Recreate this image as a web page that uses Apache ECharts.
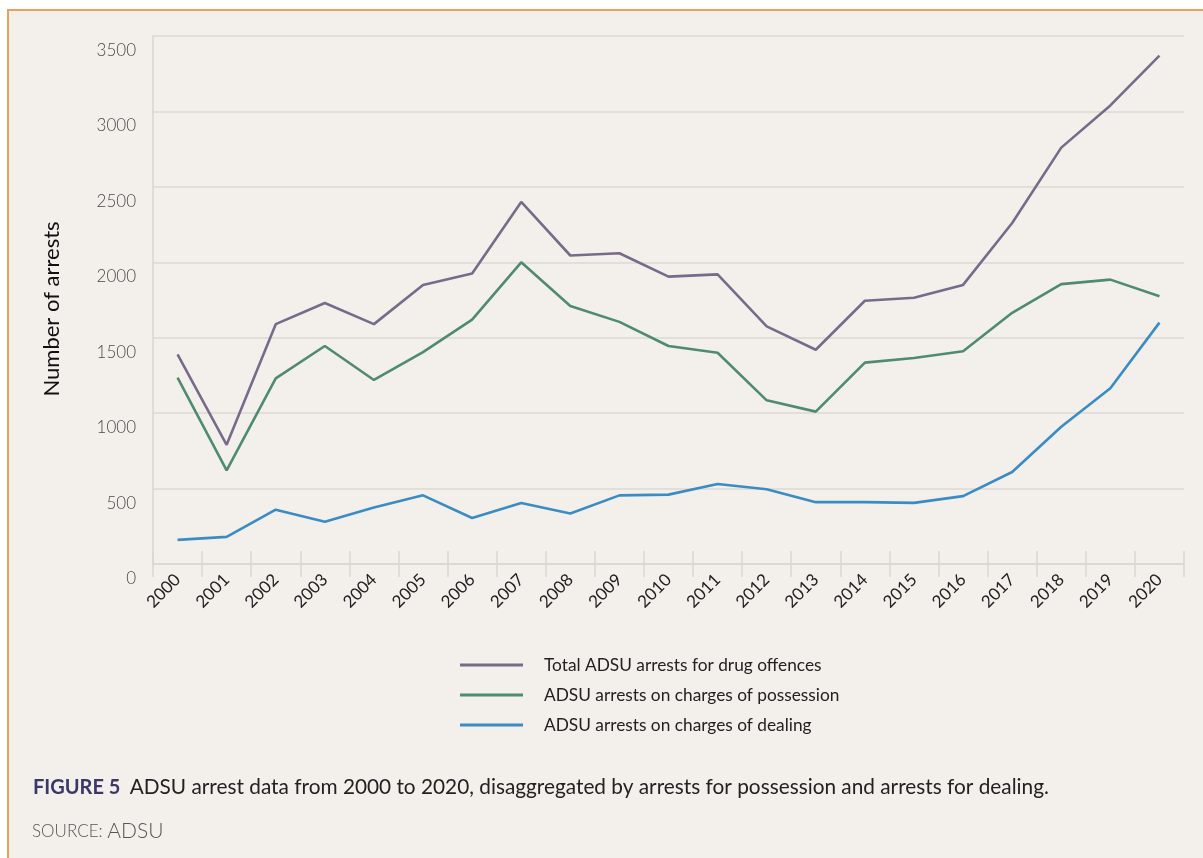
<!DOCTYPE html>
<html>
<head>
<meta charset="utf-8">
<script src="https://cdn.jsdelivr.net/npm/echarts@6/dist/echarts.min.js"></script>
<style>
html,body{margin:0;padding:0;background:#ffffff;width:1203px;height:858px;overflow:hidden;}
#frame{position:absolute;left:7px;top:9px;width:1220px;height:870px;border:2px solid #e8a25e;background:#f3f0ec;}
#chart{position:absolute;left:0;top:0;width:1203px;height:858px;}
</style>
</head>
<body>
<div id="frame"></div>
<div id="chart"></div>
<script>
const years = ['2000','2001','2002','2003','2004','2005','2006','2007','2008','2009','2010','2011','2012','2013','2014','2015','2016','2017','2018','2019','2020'];
const totalArrests = [1390,790,1590,1730,1590,1850,1925,2400,2045,2060,1905,1920,1575,1420,1745,1765,1850,2260,2760,3040,3370];
const possession = [1235,620,1230,1445,1220,1405,1620,2000,1710,1605,1445,1400,1085,1010,1335,1365,1410,1665,1855,1885,1775];
const dealing = [160,180,360,280,375,455,305,405,335,455,460,530,495,410,410,405,450,610,910,1165,1600];
const seriesNames = ['Total ADSU arrests for drug offences','ADSU arrests on charges of possession','ADSU arrests on charges of dealing'];
const seriesColors = ['#786b8a','#4f8b6f','#3a8cc3'];

const chart = echarts.init(document.getElementById('chart'), null, {renderer:'canvas'});
const FONT = 'Lato';
const axisGray = '#d9d6d2';
const option = {
  backgroundColor: 'transparent',
  textStyle: {fontFamily: FONT},
  title: [
    {
      left: 33, top: 777, padding: 0,
      text: '{b|FIGURE 5}  {n|ADSU arrest data from 2000 to 2020, disaggregated by arrests for possession and arrests for dealing.}',
      textStyle: {
        fontWeight: 'normal',
        rich: {
          b: {fontFamily: FONT, fontSize: 20, fontWeight: 'bold', color: '#3b3768'},
          n: {fontFamily: FONT, fontSize: 20.8, fontWeight: 'normal', color: '#222222'}
        }
      }
    },
    {
      left: 32, top: 821, padding: 0,
      text: '{s|SOURCE:} {a|ADSU}',
      textStyle: {
        fontWeight: 'normal',
        rich: {
          s: {fontFamily: FONT, fontSize: 17, fontWeight: 300, color: '#555555'},
          a: {fontFamily: FONT, fontSize: 21, fontWeight: 300, color: '#555555'}
        }
      }
    }
  ],
  legend: {
    orient: 'vertical',
    left: 460, top: 655, padding: 0,
    icon: 'rect',
    itemWidth: 63, itemHeight: 3,
    itemGap: 10,
    textStyle: {fontFamily: FONT, fontSize: 17.3, color: '#222222', lineHeight: 20, padding: [0,0,0,16]},
    data: seriesNames
  },
  grid: {left: 153, right: 19, top: 36, bottom: 294, containLabel: false},
  xAxis: [
    {
      type: 'category', data: years, boundaryGap: true,
      axisLine: {show: true, lineStyle: {color: axisGray, width: 1.5}},
      axisTick: {show: true, length: 13, lineStyle: {color: axisGray, width: 1.5}},
      axisLabel: {rotate: 45, fontFamily: FONT, fontSize: 17, color: '#222222', margin: 13, interval: 0}
    },
    {
      type: 'category', data: years, boundaryGap: true, position: 'bottom',
      axisLine: {show: false},
      axisTick: {show: true, inside: true, length: 13, lineStyle: {color: axisGray, width: 1.5}},
      axisLabel: {show: false}
    }
  ],
  yAxis: {
    type: 'value', min: 0, max: 3500, interval: 500,
    name: 'Number of arrests', nameLocation: 'middle', nameGap: 90,
    nameTextStyle: {fontFamily: FONT, fontSize: 22, color: '#111111', padding: [0, 18, 0, 0]},
    axisLine: {show: true, lineStyle: {color: axisGray, width: 1.5}},
    axisTick: {show: false},
    axisLabel: {fontFamily: FONT, fontSize: 17, fontWeight: 300, color: '#4a4a4a', margin: 17, formatter: function (v) { return String(v); }, verticalAlign: 'top', lineHeight: 29},
    splitLine: {lineStyle: {color: '#dcd9d5', width: 1.5}}
  },
  series: [
    {name: seriesNames[0], type: 'line', data: totalArrests, symbol: 'none', lineStyle: {width: 2.6, color: seriesColors[0]}, itemStyle: {color: seriesColors[0]}},
    {name: seriesNames[1], type: 'line', data: possession, symbol: 'none', lineStyle: {width: 2.6, color: seriesColors[1]}, itemStyle: {color: seriesColors[1]}},
    {name: seriesNames[2], type: 'line', data: dealing, symbol: 'none', lineStyle: {width: 2.6, color: seriesColors[2]}, itemStyle: {color: seriesColors[2]}}
  ],
  animation: false
};
chart.setOption(option);
</script>
</body>
</html>
